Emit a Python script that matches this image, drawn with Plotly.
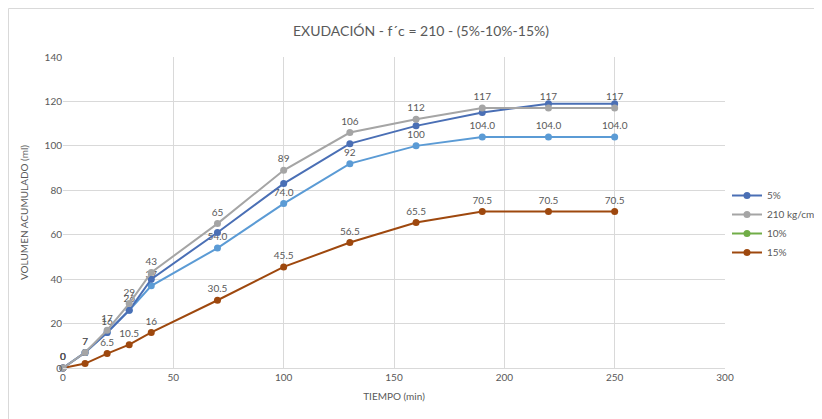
import plotly.graph_objects as go

tiempo = [0, 10, 20, 30, 40, 70, 100, 130, 160, 190, 220, 250]
v_5 = [0, 7, 16, 26, 40, 61, 83, 101, 109, 115, 119, 119]
v_210 = [0, 7, 17, 29, 43, 65, 89, 106, 112, 117, 117, 117]
v_10 = [0, 7, 16, 26, 37, 54, 74, 92, 100, 104, 104, 104]
v_15 = [0, 2, 6.5, 10.5, 16, 30.5, 45.5, 56.5, 65.5, 70.5, 70.5, 70.5]

lbl_210 = ["0", "7", "17", "29", "43", "65", "89", "106", "112", "117", "117", "117"]
lbl_10 = ["0", "7", "16", "26", "37", "54.0", "74.0", "92", "100", "104.0", "104.0", "104.0"]
lbl_15 = ["0", "2", "6.5", "10.5", "16", "30.5", "45.5", "56.5", "65.5", "70.5", "70.5", "70.5"]

FONT = "Lato, Open Sans, sans-serif"
TXT = "#595959"

fig = go.Figure()

def add(x, y, name, color, text=None, showlegend=True):
    fig.add_trace(go.Scatter(
        x=x, y=y, name=name, mode="lines+markers+text" if text else "lines+markers",
        text=text, textposition="top center",
        textfont=dict(size=10, color=TXT, family=FONT),
        line=dict(color=color, width=2), marker=dict(color=color, size=7),
        showlegend=showlegend, cliponaxis=False))

add(tiempo, v_10, "10% ", "#5B9BD5", lbl_10, showlegend=False)
add(tiempo, v_15, "15%", "#9E480E", lbl_15, showlegend=False)
add(tiempo, v_5, "5%", "#4A6FB5")
add(tiempo, v_210, "210 kg/cm", "#A5A5A5", lbl_210)
# legend-only entries to reproduce the original legend
fig.add_trace(go.Scatter(x=[None], y=[None], name="10%", mode="lines+markers",
                         line=dict(color="#70AD47", width=2), marker=dict(color="#70AD47", size=7)))
fig.add_trace(go.Scatter(x=[None], y=[None], name="15%", mode="lines+markers",
                         line=dict(color="#9E480E", width=2), marker=dict(color="#9E480E", size=7)))

W, H = 814, 411
L, R, T, B = 55, 97, 49, 51
PW, PH = W - L - R, H - T - B

fig.update_layout(
    width=W, height=H,
    margin=dict(l=L, r=R, t=T, b=B, autoexpand=False),
    paper_bgcolor="white", plot_bgcolor="white",
    font=dict(family=FONT, color=TXT, size=10),
    title=dict(text="EXUDACIÓN - f´c = 210 - (5%-10%-15%)", x=(413 - L) / PW, xanchor="center",
               xref="paper", y=1 - 23 / H, yanchor="middle",
               font=dict(size=14, color=TXT, family=FONT)),
    legend=dict(x=1.003, xanchor="left", y=(360 - 173) / PH, yanchor="top", bgcolor="rgba(0,0,0,0)",
                font=dict(size=10, color=TXT), itemwidth=30),
    shapes=[dict(type="rect", xref="paper", yref="paper",
                 x0=(0.5 - L) / PW, x1=1 + (R + 5) / PH, y0=-(B + 5) / PH, y1=1 + (T - 0.5) / PH,
                 line=dict(color="#D9D9D9", width=1), fillcolor="rgba(0,0,0,0)", layer="below")],
)
fig.update_xaxes(range=[0, 300], dtick=50, showgrid=True, gridcolor="#D9D9D9", zeroline=False,
                 showline=True, linecolor="#D9D9D9", ticks="", tickfont=dict(size=10, color=TXT),
                 automargin=False,
                 title=dict(text="TIEMPO (min)", font=dict(size=10, color=TXT), standoff=10))
fig.update_yaxes(range=[0, 140], dtick=20, showgrid=True, gridcolor="#D9D9D9", zeroline=False,
                 showline=False, ticks="", tickfont=dict(size=10, color=TXT), automargin=False,
                 title=dict(text="VOLUMEN ACUMULADO (ml)", font=dict(size=10, color=TXT), standoff=14))

fig.write_html("out.html")
